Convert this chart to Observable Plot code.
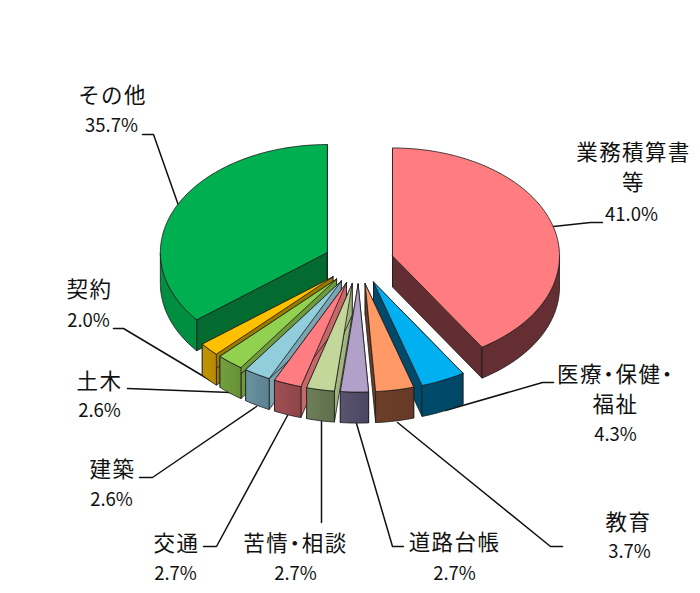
<!DOCTYPE html>
<html lang="ja">
<head>
<meta charset="utf-8">
<script src="https://cdn.jsdelivr.net/npm/d3@7"></script>
<script src="https://cdn.jsdelivr.net/npm/@observablehq/plot@0.6"></script>
<style>
html,body{margin:0;padding:0;background:#fff;overflow:hidden}
svg{display:block}
.name text{letter-spacing:1.4px;font-kerning:none}
.dots text{letter-spacing:1.6px;font-feature-settings:"palt";font-kerning:none}
</style>
</head>
<body>
<div id="chart"></div>
<script>
// data
const categories = ["業務積算書等","医療・保健・福祉","教育","道路台帳","苦情・相談","交通","建築","土木","契約","その他"];
const shares = [41.0,4.3,3.7,2.7,2.7,2.7,2.6,2.6,2.0,35.7];
const shareLabels = ["41.0%","4.3%","3.7%","2.7%","2.7%","2.7%","2.6%","2.6%","2.0%","35.7%"];
const topColors = ["#FF7C80","#00B0F0","#FF9966","#B1A0C7","#C4D79B","#FF7C80","#92CDDC","#92D050","#FFC000","#00B050"];
const outerFrom = ["#642E33","#004B6C","#6D3F29","#5B5470","#6F7F58","#A04F55","#6A939F","#72A040","#C09300","#008E40"];
const outerTo   = ["#642E33","#004766","#663A26","#4A4560","#5F6E4C","#8F4548","#5C8090","#669035","#B88C00","#008E40"];
const innerColors = ["#632E32","#004B6C","#6B3D28","#8F80A5","#A3B57F","#C9666A","#7AA5B3","#6F9A3A","#9C7A00","#046B30"];

// layout
const base = {x:358.4, y:261.6};
const rx = 167, ry = 108, depth = 31, blastX = 35, blastY = 22;
const nameRows = [
  ["業務積算書",633,153],["等",633,183],["医療・保健・",615,375],["福祉",615,405],["教育",628,523],
  ["道路台帳",454,543],["苦情・相談",295,544],["交通",176,544],["建築",112,470],["土木",99,382],["契約",89,290],["その他",112,96]
];
const pctRows = [[0,631,215],[1,615,435],[2,629,552],[3,454,574],[4,295,574],[5,175,574],[6,111,500],[7,99,411],[8,88,321],[9,111,126]];
const leaders = [
  [[553,226],[590,222],[602,222]],
  [[445,410],[542,382],[553,382]],
  [[397,422],[550,546],[562,546]],
  [[356,423],[392,546],[403,546]],
  [[321,420],[321,522]],
  [[287,415],[216,546],[203,546]],
  [[256,406],[152,477],[139,477]],
  [[230,392],[127,388]],
  [[210,380],[123,328],[113,328]],
  [[178,205],[153,134],[142,134]]
];

// geometry from the shares
const total = d3.sum(shares);
const angle = d3.scaleLinear().domain([0,total]).range([0,2*Math.PI]);
const cum = d3.cumsum(shares);
const slices = shares.map((v,i)=>{
  const a0 = angle(i?cum[i-1]:0), a1 = angle(cum[i]), mid=(a0+a1)/2;
  return {i,a0,a1,mid,cx:base.x+blastX*Math.sin(mid),cy:base.y-blastY*Math.cos(mid)};
});
const rim = (s,a,dy=0)=>[s.cx+rx*Math.sin(a), s.cy-ry*Math.cos(a)+dy];
const arc = (s,a0,a1,dy=0)=>{
  const n=Math.max(2,Math.ceil((a1-a0)/0.02));
  return d3.range(n+1).map(k=>rim(s,a0+(a1-a0)*k/n,dy));
};
const rows=[];
const poly=(id,fill,pts)=>{pts.concat([pts[0]]).forEach(p=>rows.push({id,fill,x:p[0],y:p[1]}));};
const order = slices.slice().sort((p,q)=>Math.abs(q.mid-Math.PI)-Math.abs(p.mid-Math.PI));
for(const s of order){
  const ap=[s.cx,s.cy], apD=[s.cx,s.cy+depth];
  poly(`w0${s.i}`,innerColors[s.i],[ap,rim(s,s.a0),rim(s,s.a0,depth),apD]);
  poly(`w1${s.i}`,innerColors[s.i],[ap,rim(s,s.a1),rim(s,s.a1,depth),apD]);
  const f0=Math.max(s.a0,Math.PI/2), f1=Math.min(s.a1,3*Math.PI/2);
  if(f1>f0){
    poly(`o${s.i}`,`url(#wall${s.i})`,[...arc(s,f0,f1),...arc(s,f0,f1,depth).reverse()]);
  }
  poly(`t${s.i}`,topColors[s.i],[ap,...arc(s,s.a0,s.a1)]);
}
const leaderRows = leaders.flatMap((l,i)=>l.map(p=>({i,x:p[0],y:p[1]})));
const gradients = ()=>{
  const defs=d3.create("svg:defs");
  shares.forEach((_,i)=>{
    const g=defs.append("linearGradient").attr("id",`wall${i}`);
    g.append("stop").attr("offset","0").attr("stop-color",outerFrom[i]);
    g.append("stop").attr("offset","1").attr("stop-color",outerTo[i]);
  });
  return defs.node();
};
const font='"Noto Sans CJK JP"';
const hasDot = d=>d[0].includes("・");
const nameText = (data,className)=>Plot.text(data,{x:d=>d[1],y:d=>d[2],text:d=>d[0],fontSize:21.5,fontFamily:font,fill:"#111",className});
const chart = Plot.plot({
  width:700,height:593,margin:0,
  x:{domain:[0,700],range:[0,700],axis:null},
  y:{domain:[0,593],range:[0,593],axis:null},
  color:{type:"identity"},
  style:{background:"#fff"},
  marks:[
    gradients,
    Plot.line(leaderRows,{x:"x",y:"y",z:"i",stroke:"#111",strokeWidth:1.5}),
    Plot.line(rows,{x:"x",y:"y",z:"id",fill:d=>d.fill,stroke:"#1a1a1a",strokeWidth:0.8,strokeLinejoin:"round"}),
    nameText(nameRows.filter(d=>!hasDot(d)),"name"),
    nameText(nameRows.filter(hasDot),"dots"),
    Plot.text(pctRows,{x:d=>d[1],y:d=>d[2],text:d=>shareLabels[d[0]],fontSize:18.5,fontFamily:font,fill:"#111"})
  ]
});
document.getElementById("chart").append(chart);
</script>
</body>
</html>
